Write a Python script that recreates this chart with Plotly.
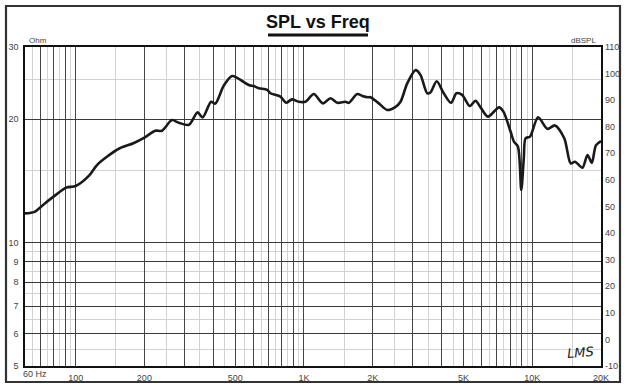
import numpy as np
import plotly.graph_objects as go

# ---- data ----
freq_hz = [60, 66, 72, 80, 91, 100, 115, 124, 137, 156, 179, 201, 223, 239, 264, 283, 313,
           342, 360, 392, 409, 445, 484, 510, 573, 603, 634, 690, 713, 789, 835, 886, 948,
           1015, 1104, 1210, 1307, 1400, 1521, 1571, 1711, 1802, 1900, 1956, 2127, 2317,
           2521, 2648, 2834, 3082, 3238, 3466, 3580, 3815, 4094, 4409, 4653, 4929, 5326,
           5640, 5937, 6393, 7150, 7474, 8040, 8312, 8655, 8950, 9180, 9349, 9780, 10600,
           11650, 12570, 13820, 14730, 15400, 16580, 17450, 18230, 19000, 20000]
spl_db = [47.4, 48.0, 50.6, 53.7, 57.1, 57.7, 61.8, 65.6, 68.7, 71.9, 73.8, 76.0, 78.5, 78.5,
          82.5, 81.5, 80.7, 85.4, 83.5, 89.4, 88.7, 95.4, 99.1, 98.4, 95.7, 95.3, 94.5, 93.9,
          92.6, 91.3, 89.0, 90.3, 89.4, 89.4, 92.3, 88.8, 90.7, 89.0, 89.4, 89.0, 92.3, 91.6,
          91.1, 91.1, 88.8, 86.3, 87.5, 89.4, 96.3, 101.3, 99.5, 92.6, 92.9, 97.1, 92.6, 89.0,
          92.6, 92.0, 87.8, 89.8, 87.3, 83.8, 87.3, 85.7, 78.1, 74.4, 72.5, 56.2, 68.1, 75.7,
          76.3, 83.6, 79.2, 80.5, 75.6, 66.2, 66.8, 64.6, 69.4, 66.4, 73.0, 74.6]

x_major = [70, 80, 90, 100, 200, 300, 400, 500, 600, 700, 800, 900, 1000, 2000, 3000, 4000,
           5000, 6000, 7000, 8000, 9000, 10000, 20000]
x_labels = {100: "100", 200: "200", 500: "500", 1000: "1K", 2000: "2K", 5000: "5K",
            10000: "10K", 20000: "20K"}
x_minor = [65, 75, 85, 95, 150, 250, 350, 450, 550, 650, 750, 850, 950, 1500, 2500, 3500,
           4500, 5500, 6500, 7500, 8500, 9500, 15000]
ohm_major = [5, 6, 7, 8, 9, 10, 20, 30]
ohm_minor = [5.5, 6.5, 7.5, 8.5, 9.5, 15, 25]
db_ticks = list(range(-10, 111, 10))

# ---- layout geometry ----
W, H = 626, 388
ML, MR, MT, MB = 25, 25, 47, 22
PW, PH = W - ML - MR, H - MT - MB


def px(xp):
    return (xp - ML) / PW


def py(yp):
    return (H - MB - yp) / PH


font_main = "Liberation Sans, Arial, sans-serif"
lab_color = "#444444"

fig = go.Figure()
fig.add_trace(go.Scatter(x=[], y=[], xaxis="x", yaxis="y", showlegend=False,
                         hoverinfo="skip"))
fig.add_trace(go.Scatter(x=freq_hz, y=spl_db, xaxis="x", yaxis="y2", mode="lines",
                         line=dict(color="#1a1a1a", width=2.6, shape="spline",
                                   smoothing=0.8),
                         showlegend=False))

fig.update_layout(
    template="none",
    width=W, height=H,
    margin=dict(l=ML, r=MR, t=MT, b=MB, pad=0, autoexpand=False),
    paper_bgcolor="white", plot_bgcolor="white",
    font=dict(family=font_main, size=9, color=lab_color),
    xaxis=dict(type="log", range=[np.log10(60), np.log10(20000)], automargin=False,
               tickmode="array", tickvals=x_major,
               ticktext=[x_labels.get(v, "") for v in x_major],
               ticks="", showgrid=True, gridcolor="#454545", gridwidth=1.4,
               showline=True, linecolor="#111111", linewidth=1.5, mirror=True,
               zeroline=False, tickfont=dict(size=9, color=lab_color),
               ticklabelstandoff=2,
               minor=dict(tickmode="array", tickvals=x_minor, showgrid=True,
                          gridcolor="#d2d2d2", gridwidth=1, ticks="")),
    yaxis=dict(type="log", range=[np.log10(5), np.log10(30)], automargin=False,
               tickmode="array", tickvals=ohm_major,
               ticktext=[str(v) for v in ohm_major],
               ticks="", showgrid=True, gridcolor="#3a3a3a", gridwidth=1.2,
               showline=True, linecolor="#111111", linewidth=1.5, mirror=True,
               zeroline=False, tickfont=dict(size=9, color=lab_color),
               ticklabelstandoff=3,
               minor=dict(tickmode="array", tickvals=ohm_minor, showgrid=True,
                          gridcolor="#d2d2d2", gridwidth=1, ticks="")),
    yaxis2=dict(range=[-10, 110], overlaying="y", side="right", automargin=False,
                tickmode="array", tickvals=db_ticks,
                ticktext=[str(v) for v in db_ticks],
                ticks="", showgrid=False, zeroline=False, showline=False,
                tickfont=dict(size=9, color=lab_color), ticklabelstandoff=3),
)

shapes = [
    # outer frame
    dict(type="rect", xref="paper", yref="paper",
         x0=px(6), x1=px(620), y0=py(382), y1=py(6),
         line=dict(color="#333333", width=2.2), layer="above"),
    # title underline
    dict(type="line", xref="paper", yref="paper",
         x0=px(268), x1=px(368), y0=py(35), y1=py(35),
         line=dict(color="#111111", width=3)),
]
fig.update_layout(shapes=shapes)

annotations = [
    dict(text="<b>SPL vs Freq</b>", xref="paper", yref="paper",
         x=px(318), y=py(22), xanchor="center", yanchor="middle", showarrow=False,
         font=dict(family=font_main, size=18, color="#111111")),
    dict(text="Ohm", xref="paper", yref="paper", x=px(27), y=py(41),
         xanchor="left", yanchor="middle", showarrow=False,
         font=dict(family=font_main, size=8, color=lab_color)),
    dict(text="dBSPL", xref="paper", yref="paper", x=px(598), y=py(41),
         xanchor="right", yanchor="middle", showarrow=False,
         font=dict(family=font_main, size=8, color=lab_color)),
    dict(text="60 Hz", xref="paper", yref="paper", x=px(21), y=py(374),
         xanchor="left", yanchor="middle", showarrow=False,
         font=dict(family=font_main, size=9, color=lab_color)),
    dict(text="LMS", xref="paper", yref="paper", x=px(580), y=py(352),
         xanchor="center", yanchor="middle", showarrow=False, textangle=-4,
         font=dict(family="DejaVu Sans, sans-serif", size=13, color="#222222",
                   style="italic")),
]
fig.update_layout(annotations=annotations)

fig.write_html("out.html", config={"displayModeBar": False},
               post_script="document.body.style.margin='0';document.body.style.padding='0';")
